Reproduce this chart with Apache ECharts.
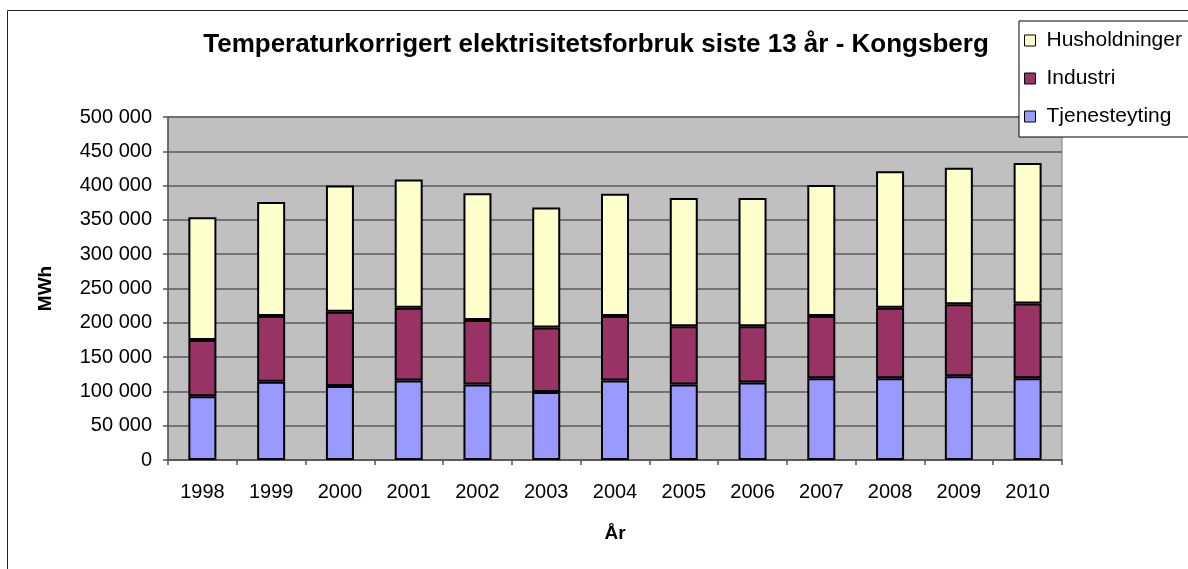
<!DOCTYPE html>
<html>
<head>
<meta charset="utf-8">
<script src="https://cdn.jsdelivr.net/npm/echarts@6/dist/echarts.min.js"></script>
<style>
  html, body { margin: 0; padding: 0; background: #fff; }
  #chart { width: 1188px; height: 569px; }
</style>
</head>
<body>
<div id="chart"></div>
<script>
// år
const years = ["1998", "1999", "2000", "2001", "2002", "2003", "2004", "2005", "2006", "2007", "2008", "2009", "2010"];

// MWh, lest av bildet
const tjenesteyting = [93000, 114000, 108000, 116000, 110000, 99000, 116000, 110000, 113000, 119000, 119000, 122000, 119000];
const industri = [82000, 96000, 108000, 106000, 94000, 94000, 94000, 85000, 82000, 91000, 103000, 105000, 109000];
const husholdninger = [179000, 166000, 184000, 187000, 185000, 175000, 178000, 187000, 187000, 191000, 199000, 199000, 205000];

const font = "'Liberation Sans', Arial, sans-serif";

const chart = echarts.init(document.getElementById("chart"));

const barStyle = (color) => ({
  color: color,
  borderColor: "#000",
  borderWidth: 2,
});

const fmt = (v) => String(v).replace(/\B(?=(\d{3})+(?!\d))/g, " ");

const option = {
  animation: false,
  textStyle: { fontFamily: font },
  graphic: [
    {
      // ytre ramme
      type: "rect",
      shape: { x: 7.5, y: 10.5, width: 1300, height: 700 },
      style: { fill: "none", stroke: "#222", lineWidth: 1 },
      z: -10,
    },
  ],
  title: {
    text: "Temperaturkorrigert elektrisitetsforbruk siste 13 år - Kongsberg",
    left: 591,
    textAlign: "center",
    top: 27,
    textStyle: { fontFamily: font, fontSize: 26, fontWeight: "bold", color: "#000" },
  },
  legend: {
    orient: "vertical",
    left: 1019,
    top: 21,
    padding: [9, 60, 10, 5],
    itemGap: 17,
    itemWidth: 11,
    itemHeight: 11,
    icon: "rect",
    backgroundColor: "#fff",
    borderColor: "#000",
    borderWidth: 1,
    itemStyle: { borderColor: "#000", borderWidth: 1 },
    textStyle: { fontFamily: font, fontSize: 21, color: "#000", lineHeight: 21, padding: [0, 0, 0, 6] },
    data: ["Husholdninger", "Industri", "Tjenesteyting"],
  },
  grid: {
    left: 168,
    right: 126,
    top: 117,
    bottom: 109,
    show: true,
    backgroundColor: "#c0c0c0",
    borderColor: "#808080",
    borderWidth: 1,
  },
  xAxis: {
    type: "category",
    data: years,
    name: "År",
    nameLocation: "middle",
    nameGap: 64,
    nameTextStyle: { fontFamily: font, fontSize: 19, fontWeight: "bold", color: "#000" },
    axisLine: { lineStyle: { color: "#555", width: 1.5 } },
    axisTick: { show: true, length: 5, lineStyle: { color: "#555", width: 1.5 } },
    axisLabel: { color: "#000", fontSize: 20, margin: 22, fontFamily: font },
  },
  yAxis: {
    type: "value",
    min: 0,
    max: 500000,
    interval: 50000,
    name: "MWh",
    nameLocation: "middle",
    nameGap: 113,
    nameTextStyle: { fontFamily: font, fontSize: 19, fontWeight: "bold", color: "#000" },
    axisLine: { show: true, lineStyle: { color: "#555", width: 1.5 } },
    axisTick: { show: true, length: 5, lineStyle: { color: "#555", width: 1.5 } },
    axisLabel: { color: "#000", fontSize: 20, margin: 16, fontFamily: font, formatter: fmt },
    splitLine: { lineStyle: { color: "#5a5a5a", width: 1.5 } },
  },
  series: [
    {
      name: "Tjenesteyting",
      type: "bar",
      stack: "total",
      barWidth: 28,
      data: tjenesteyting,
      itemStyle: barStyle("#9999ff"),
    },
    {
      name: "Industri",
      type: "bar",
      stack: "total",
      barWidth: 28,
      data: industri,
      itemStyle: barStyle("#993366"),
    },
    {
      name: "Husholdninger",
      type: "bar",
      stack: "total",
      barWidth: 28,
      data: husholdninger,
      itemStyle: barStyle("#ffffcc"),
    },
  ],
};

chart.setOption(option);
</script>
</body>
</html>
